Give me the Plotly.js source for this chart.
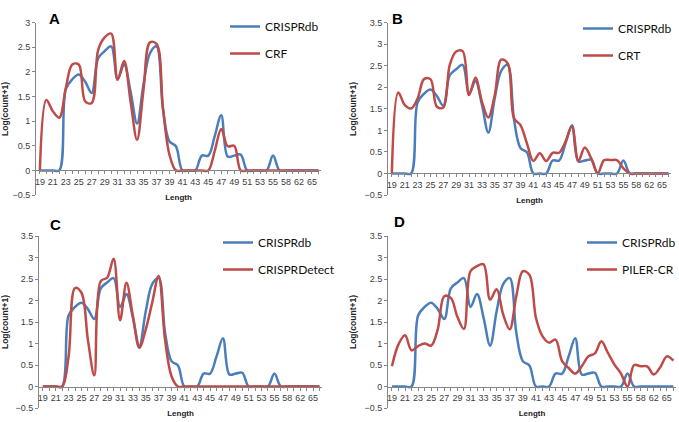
<!DOCTYPE html>
<html>
<head>
<meta charset="utf-8">
<script src="https://cdn.plot.ly/plotly-3.0.1.min.js"></script>
<style>
  html, body { margin: 0; padding: 0; background: #fff; }
  #chart { width: 679px; height: 422px; }
</style>
</head>
<body>
<div id="chart"></div>
<script>
// spacer lengths (categories), one point per category
const lengths = [19, 20, 21, 22, 23, 24, 25, 26, 27, 28, 29, 30, 31, 32, 33, 34, 35, 36, 37, 38,
  39, 40, 41, 42, 43, 44, 45, 46, 47, 48, 49, 50, 51, 52, 53, 54, 55, 56, 58, 60, 62, 64, 65, 66];

// log(count+1)
const crisprdb = [0, 0, 0, 0, 1.65, 1.85, 1.95, 1.8, 1.57, 2.28, 2.42, 2.52, 1.85, 2.15, 1.6, 0.95, 1.75, 2.38, 2.52, 1.25,
  0.59, 0.49, 0, 0, 0, 0.3, 0.3, 0.7, 1.12, 0.28, 0.3, 0.32, 0, 0, 0, 0, 0.3, 0, 0, 0, 0, 0, 0, 0];
const crf = [0, 1.43, 1.2, 1.07, 1.67, 2.15, 2.15, 1.4, 1.37, 2.45, 2.7, 2.78, 1.84, 2.22, 1.4, 0.62, 1.64, 2.6, 2.57, 1.27,
  0.32, 0, 0, 0, 0, 0, 0, 0.4, 0.84, 0.49, 0.5, 0, 0, 0, 0, 0, 0, 0, 0, 0, 0, 0, 0, 0];
const crt = [0, 1.88, 1.59, 1.51, 1.74, 2.19, 2.19, 1.55, 1.53, 2.52, 2.83, 2.84, 1.82, 2.22, 1.67, 1.3, 1.82, 2.64, 2.56, 1.28,
  1.12, 0.7, 0.29, 0.47, 0.29, 0.48, 0.48, 0.74, 1.09, 0.29, 0.6, 0.35, 0, 0.31, 0.31, 0.31, 0.12, 0, 0, 0, 0, 0, 0, 0];
const crisprDetect = [0, 0, 0, 0, 0.7, 2.29, 2.18, 1.09, 0.26, 2.45, 2.53, 2.97, 1.54, 2.41, 1.64, 0.9, 1.33, 1.95, 2.57, 1.09,
  0.24, 0, 0, 0, 0, 0, 0, 0, 0, 0, 0, 0, 0, 0, 0, 0, 0, 0, 0, 0, 0, 0, 0, 0];
const pilerCr = [0.47, 0.98, 1.19, 0.84, 0.94, 1.0, 0.95, 1.33, 2.1, 2.06, 1.62, 1.34, 2.68, 2.8, 2.84, 2.02, 2.26, 1.67, 1.33, 2.1,
  2.68, 2.6, 1.6, 1.17, 1.02, 1.09, 0.59, 0.43, 0.3, 0.47, 0.7, 0.77, 1.05, 0.78, 0.51, 0.3, 0, 0.5, 0.47, 0.47, 0.28, 0.45, 0.7, 0.6];

const panelTags = ["A", "B", "C", "D"];
const toolNames = ["CRF", "CRT", "CRISPRDetect", "PILER-CR"];
const toolSeries = [crf, crt, crisprDetect, pilerCr];
const yMax = [3, 3.5, 3.5, 3.5];

const W = 679, H = 422;
const BLUE = "#4a7ebb", RED = "#be4b48", AX = "#868686", TXT = "#404040";
// pixel boxes of each plot area: [left, right], [top, bottom], legend spot, tag spot
const boxes = [
  { x: [36, 321], y: [22.7, 195], leg: [225, 12], tag: [47, 8] },
  { x: [388, 671], y: [22.7, 195], leg: [578, 14], tag: [397, 8] },
  { x: [39, 322], y: [236, 408], leg: [218, 228], tag: [48, 224] },
  { x: [388, 676], y: [236, 408], leg: [582, 228], tag: [399, 221] }
];

const idx = lengths.map((_, i) => i);
const tickText = lengths.map((v, i) => (i % 2 ? "" : String(v)));

const traces = [], annotations = [];
const layout = {
  width: W, height: H, margin: { l: 0, r: 0, t: 0, b: 0, autoexpand: false },
  paper_bgcolor: "#fff", plot_bgcolor: "rgba(0,0,0,0)",
  font: { family: "Liberation Sans, Arial, sans-serif", color: TXT },
  showlegend: true
};

boxes.forEach((b, p) => {
  const s = p ? String(p + 1) : "";
  const yd = [1 - b.y[1] / H, 1 - b.y[0] / H];
  const zeroPos = yd[0] + (0.5 / (yMax[p] + 0.5)) * (yd[1] - yd[0]);
  const legKey = "legend" + s;

  layout["xaxis" + s] = {
    domain: [b.x[0] / W, b.x[1] / W], range: [-0.6, 43.4], anchor: "free", position: zeroPos,
    tickmode: "array", tickvals: idx, ticktext: tickText, ticks: "outside", ticklen: 3, tickcolor: AX,
    showline: true, linecolor: AX, linewidth: 1, showgrid: false, zeroline: false,
    tickfont: { size: 9, color: TXT },
    title: { text: "<b>Length</b>", font: { size: 8, color: "#222" }, standoff: 8 }
  };
  layout["yaxis" + s] = {
    domain: yd, range: [-0.5, yMax[p]], anchor: "x" + s, dtick: 0.5, tick0: 0,
    ticks: "outside", ticklen: 3, tickcolor: AX, showline: true, linecolor: AX, linewidth: 1,
    showgrid: false, zeroline: false, tickfont: { size: 9, color: TXT },
    title: { text: "<b>Log(count+1)</b>", font: { size: 8.5, color: "#222" }, standoff: 6 }
  };
  layout[legKey] = {
    x: b.leg[0] / W, y: 1 - b.leg[1] / H, xanchor: "left", yanchor: "top",
    bgcolor: "rgba(0,0,0,0)", tracegroupgap: 8, itemwidth: 30,
    font: { family: "Lato, sans-serif", size: 12, color: "#111" }
  };

  traces.push({
    x: idx, y: crisprdb, xaxis: "x" + s, yaxis: "y" + s, name: "CRISPRdb",
    legend: legKey, legendgroup: "db" + p, type: "scatter", mode: "lines",
    line: { color: BLUE, width: 2.5, shape: "spline", smoothing: 1 }
  });
  traces.push({
    x: idx, y: toolSeries[p], xaxis: "x" + s, yaxis: "y" + s, name: toolNames[p],
    legend: legKey, legendgroup: "tool" + p, type: "scatter", mode: "lines",
    line: { color: RED, width: 2.5, shape: "spline", smoothing: 1 }
  });

  annotations.push({
    xref: "paper", yref: "paper", x: b.tag[0] / W, y: 1 - b.tag[1] / H,
    text: "<b>" + panelTags[p] + "</b>", showarrow: false,
    font: { size: 15, color: "#000", family: "Liberation Sans, Arial, sans-serif" }
  });
});
layout.annotations = annotations;

Plotly.newPlot("chart", traces, layout, { displayModeBar: false, staticPlot: true });
</script>
</body>
</html>
